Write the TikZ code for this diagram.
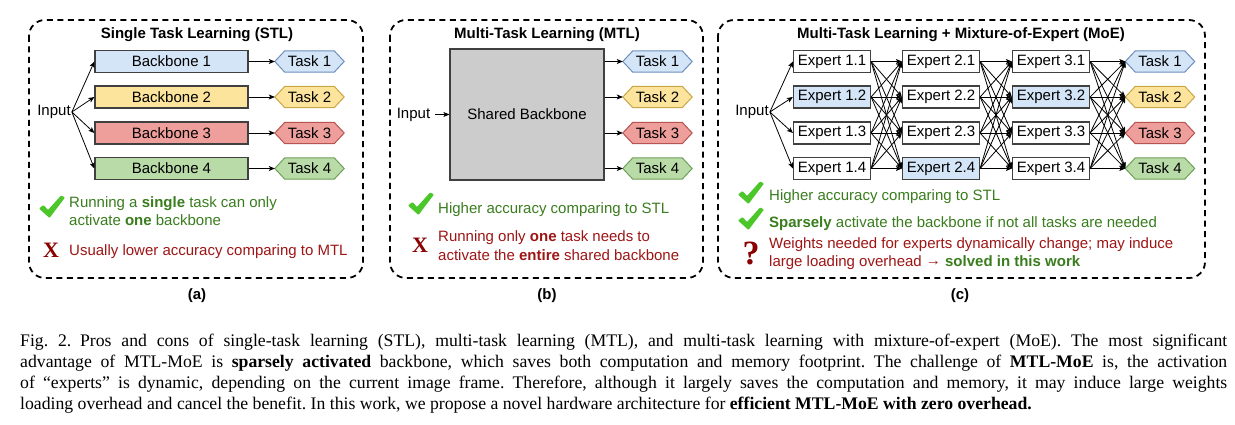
\documentclass[tikz,border=0pt]{standalone}
\usepackage{fontspec}
\setmainfont{Liberation Serif}
\newfontfamily\arial{Liberation Sans}
\usetikzlibrary{arrows.meta,backgrounds}
\definecolor{bluefill}{HTML}{D5E5F8}
\definecolor{blueline}{HTML}{6C8EBF}
\definecolor{yellowfill}{HTML}{FDE49C}
\definecolor{yellowline}{HTML}{C9A646}
\definecolor{redfill}{HTML}{EE9E9B}
\definecolor{redline}{HTML}{B85450}
\definecolor{greenfill}{HTML}{B9DBA8}
\definecolor{greenline}{HTML}{6F9F58}
\definecolor{boxline}{HTML}{404040}
\definecolor{sharedfill}{HTML}{CCCCCC}
\definecolor{protext}{HTML}{3A7D1E}
\definecolor{context}{HTML}{9E1515}
\definecolor{chkgreen}{HTML}{4CC72A}
\definecolor{xred}{HTML}{8B0000}
\newcommand{\hexat}[5]{%
  \node[taskhex] (#1) at (#2,#3) {#5};
  \begin{pgfonlayer}{background}
  \filldraw[fill=#4fill, draw=#4line, line width=1pt]
    (#1.west) -- ([xshift=10pt]#1.north west) -- ([xshift=-10pt]#1.north east)
    -- (#1.east) -- ([xshift=-10pt]#1.south east) -- ([xshift=10pt]#1.south west) -- cycle;
  \end{pgfonlayer}}
\newcommand{\chk}[2]{%
  \fill[chkgreen, rounded corners=0.8pt, shift={(#1,#2)}]
    (0,13.5) -- (4.5,10) -- (9,15) -- (22,0.5) -- (26,2.5) -- (10.5,23) -- cycle;}
\tikzset{
  lbl/.style={font=\arial\fontsize{15}{18}\selectfont, inner sep=0pt},
  ttl/.style={font=\arial\bfseries\fontsize{15}{18}\selectfont, inner sep=0pt, anchor=base},
  panel/.style={draw=black, line width=1.8pt, dash pattern=on 6pt off 4.5pt, rounded corners=16pt},
  bbox/.style={lbl, draw=boxline, line width=1.2pt, minimum width=153pt, minimum height=22pt},
  expert/.style={lbl, draw=boxline, line width=1.2pt, fill=white, minimum width=77pt, minimum height=22pt},
  taskhex/.style={lbl, minimum width=69pt, minimum height=21pt},
  arr/.style={-{Stealth[length=6pt,width=5pt,inset=1.5pt]}, line width=0.8pt, black},
  pro/.style={font=\arial\fontsize{15}{18}\selectfont, text=protext, anchor=base west, inner sep=0pt},
  con/.style={font=\arial\fontsize{15}{18}\selectfont, text=context, anchor=base west, inner sep=0pt},
  xmark/.style={font=\bfseries\fontsize{22}{22}\selectfont, text=xred, inner sep=0pt},
  captext/.style={font=\fontsize{17.7}{21}\selectfont\frenchspacing, anchor=base west, inner sep=0pt},
}
\begin{document}
\begin{tikzpicture}[x=1pt,y=-1pt]
\begin{pgfonlayer}{background}
\fill[white] (0,0) rectangle (1235,425);
\end{pgfonlayer}
\useasboundingbox (0,0) rectangle (1235,425);

% ---------- panel (a) ----------
\draw[panel] (29,20) rectangle (363,278);
\node[ttl] (ta) at (197,39) {Single Task Learning (STL)};
\node[lbl] (inA) at (54,112) {Input};
\node[bbox, fill=bluefill] (bb1) at (171.5,61.5) {Backbone 1};
\node[bbox, fill=yellowfill] (bb2) at (171.5,97) {Backbone 2};
\node[bbox, fill=redfill] (bb3) at (171.5,133) {Backbone 3};
\node[bbox, fill=greenfill] (bb4) at (171.5,168.5) {Backbone 4};
\hexat{ta1}{309.5}{61.5}{blue}{Task 1}
\hexat{ta2}{309.5}{97}{yellow}{Task 2}
\hexat{ta3}{309.5}{133}{red}{Task 3}
\hexat{ta4}{309.5}{168.5}{green}{Task 4}
\foreach \i in {1,2,3,4}{
  \draw[arr] ([xshift=1pt]inA.east) -- (bb\i.west);
  \draw[arr] (bb\i.east) -- (ta\i.west);
}
\chk{39}{195}
\node[pro] (pa1) at (69,207.5) {Running a \textbf{single} task can only};
\node[pro] (pa2) at (69,225.5) {activate \textbf{one} backbone};
\node[xmark] (xa) at (51,250) {X};
\node[con] (ca1) at (69,255) {Usually lower accuracy comparing to MTL};
\node[ttl] (la) at (197,299.5) {(a)};

% ---------- panel (b) ----------
\draw[panel] (390,20) rectangle (703,278);
\node[ttl] (tb) at (547,39) {Multi-Task Learning (MTL)};
\node[draw=boxline, line width=1.2pt, fill=sharedfill, minimum width=154pt, minimum height=131pt, lbl] (sb) at (527,114.5) {Shared Backbone};
\node[lbl] (inB) at (413.5,114.5) {Input};
\draw[arr] ([xshift=5pt]inB.east) -- (sb.west);
\hexat{tb1}{657.5}{61.5}{blue}{Task 1}
\hexat{tb2}{657.5}{97}{yellow}{Task 2}
\hexat{tb3}{657.5}{133}{red}{Task 3}
\hexat{tb4}{657.5}{168.5}{green}{Task 4}
\foreach \i in {1,2,3,4}{
  \draw[arr] (sb.east |- tb\i) -- (tb\i.west);
}
\chk{408}{192}
\node[pro] (pb1) at (438,213) {Higher accuracy comparing to STL};
\node[xmark] (xb) at (420,245) {X};
\node[con] (cb1) at (438,241.5) {Running only \textbf{one} task needs to};
\node[con] (cb2) at (438,260) {activate the \textbf{entire} shared backbone};
\node[ttl] (lb) at (547,299.5) {(b)};

% ---------- panel (c) ----------
\draw[panel] (718,20) rectangle (1205,278);
\node[ttl] (tc) at (961,39) {Multi-Task Learning + Mixture-of-Expert (MoE)};
\node[lbl] (inC) at (752,112) {Input};
\node[expert] (e11) at (832,61.5) {Expert 1.1};
\node[expert, fill=bluefill] (e12) at (832,97) {Expert 1.2};
\node[expert] (e13) at (832,133) {Expert 1.3};
\node[expert] (e14) at (832,168.5) {Expert 1.4};
\node[expert] (e21) at (941,61.5) {Expert 2.1};
\node[expert] (e22) at (941,97) {Expert 2.2};
\node[expert] (e23) at (941,133) {Expert 2.3};
\node[expert, fill=bluefill] (e24) at (941,168.5) {Expert 2.4};
\node[expert] (e31) at (1051,61.5) {Expert 3.1};
\node[expert, fill=bluefill] (e32) at (1051,97) {Expert 3.2};
\node[expert] (e33) at (1051,133) {Expert 3.3};
\node[expert] (e34) at (1051,168.5) {Expert 3.4};
\hexat{tc1}{1160}{61.5}{blue}{Task 1}
\hexat{tc2}{1160}{97}{yellow}{Task 2}
\hexat{tc3}{1160}{133}{red}{Task 3}
\hexat{tc4}{1160}{168.5}{green}{Task 4}
\foreach \i in {1,2,3,4}{
  \draw[arr] ([xshift=1pt]inC.east) -- (e1\i.west);
  \foreach \j in {1,2,3,4}{
    \draw[arr] (e1\i.east) -- (e2\j.west);
    \draw[arr] (e2\i.east) -- (e3\j.west);
    \draw[arr] (e3\i.east) -- (tc\j.west);
  }
}
\chk{738}{181}
\node[pro] (pc1) at (769,200.5) {Higher accuracy comparing to STL};
\chk{738}{207}
\node[pro] (pc2) at (769,227) {\textbf{Sparsely} activate the backbone if not all tasks are needed};
\node[xmark, font=\bfseries\fontsize{34}{34}\selectfont] (qc) at (751,253) {?};
\node[con] (cc1) at (769,248) {Weights needed for experts dynamically change; may induce};
\node[con] (cc2) at (769,266.5) {large loading overhead {\raisebox{1.5pt}{\textrightarrow}} \textcolor{protext}{\textbf{solved in this work}}};
\node[ttl] (lc) at (960,299.5) {(c)};

% ---------- caption ----------
\node[captext] (cap1) at (20,346) {\hbox to 1207pt{Fig.~2.\enspace Pros and cons of single-task learning (STL), multi-task learning (MTL), and multi-task learning with mixture-of-expert (MoE). The most significant}};
\node[captext] (cap2) at (20,367) {\hbox to 1207pt{advantage of MTL-MoE is \textbf{sparsely activated} backbone, which saves both computation and memory footprint. The challenge of \textbf{MTL-MoE} is, the activation}};
\node[captext] (cap3) at (20,388) {\hbox to 1207pt{of “experts” is dynamic, depending on the current image frame. Therefore, although it largely saves the computation and memory, it may induce large weights}};
\node[captext] (cap4) at (20,409) {loading overhead and cancel the benefit. In this work, we propose a novel hardware architecture for \textbf{efficient MTL-MoE with zero overhead.}};
\end{tikzpicture}
\end{document}
